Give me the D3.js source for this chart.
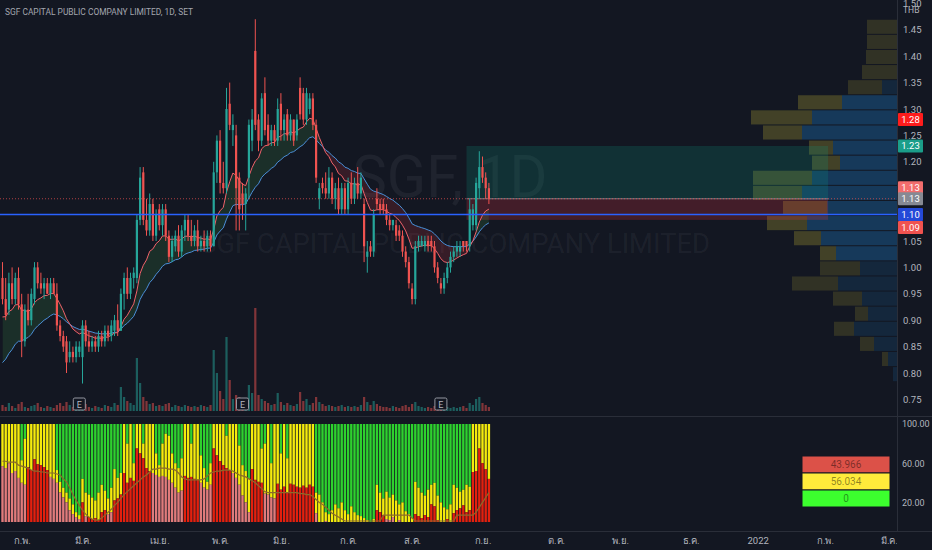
<!DOCTYPE html>
<html>
<head>
<meta charset="utf-8">
<script src="https://cdn.jsdelivr.net/npm/d3@7"></script>
<style>
body { margin: 0; background: #131722; }
svg { display: block; }
</style>
</head>
<body>
<div id="chart"></div>
<script>
// daily candles, SGF (SET), about 22 Jan 2021 .. 3 Sep 2021
const opens = [
  0.98,0.94,0.92,0.97,0.94,0.98,0.93,0.86,0.92,0.90,
  0.94,1.00,0.97,0.96,0.97,0.95,0.97,0.95,0.89,0.87,
  0.86,0.83,0.84,0.83,0.84,0.83,0.89,0.86,0.85,0.86,
  0.85,0.87,0.86,0.88,0.87,0.88,0.90,0.88,0.95,0.98,
  0.95,0.98,0.98,1.09,1.18,1.09,1.07,1.12,1.06,1.11,
  1.08,1.11,1.06,1.02,1.04,1.06,1.03,1.07,1.09,1.06,
  1.05,1.07,1.04,1.05,1.04,1.06,1.04,1.18,1.24,1.16,
  1.15,1.31,1.26,1.25,1.17,1.14,1.12,1.17,1.24,1.41,
  1.28,1.24,1.33,1.27,1.24,1.26,1.24,1.31,1.26,1.29,
  1.25,1.28,1.25,1.34,1.33,1.28,1.30,1.32,1.27,1.13,
  1.16,1.15,1.14,1.17,1.13,1.15,1.11,1.15,1.11,1.16,
  1.13,1.16,1.14,1.12,1.02,1.04,1.03,1.13,1.12,1.12,
  1.11,1.09,1.08,1.08,1.07,1.06,1.03,1.01,0.96,0.94,
  1.04,1.04,1.04,1.05,1.05,1.04,1.00,0.97,0.96,0.98,
  1.00,1.02,1.03,1.03,1.05,1.05,1.04,1.08,1.08,1.15,
  1.19,1.17,1.15
];
const highs = [
  1.01,0.98,0.99,1.00,0.99,1.00,0.95,0.93,0.95,0.96,
  1.01,1.01,0.99,0.98,0.98,0.98,0.98,0.97,0.90,0.88,
  0.87,0.86,0.85,0.86,0.86,0.90,0.90,0.88,0.87,0.87,
  0.88,0.88,0.89,0.89,0.90,0.91,0.93,0.96,0.99,1.00,
  0.99,1.00,1.10,1.19,1.19,1.13,1.14,1.13,1.11,1.12,
  1.12,1.12,1.07,1.06,1.07,1.08,1.08,1.10,1.10,1.09,
  1.08,1.09,1.06,1.07,1.07,1.07,1.20,1.25,1.26,1.20,
  1.34,1.35,1.29,1.27,1.18,1.16,1.15,1.28,1.30,1.47,
  1.29,1.33,1.36,1.29,1.27,1.27,1.32,1.33,1.29,1.30,
  1.29,1.28,1.29,1.36,1.34,1.34,1.33,1.33,1.28,1.16,
  1.17,1.18,1.19,1.18,1.16,1.17,1.16,1.16,1.17,1.18,
  1.17,1.19,1.18,1.13,1.05,1.05,1.11,1.15,1.13,1.13,
  1.12,1.10,1.09,1.09,1.08,1.07,1.04,1.02,0.97,1.05,
  1.06,1.06,1.06,1.06,1.06,1.05,1.01,0.98,0.99,1.01,
  1.03,1.04,1.05,1.05,1.05,1.05,1.13,1.12,1.17,1.22,
  1.21,1.18,1.16
];
const lows = [
  0.93,0.90,0.91,0.93,0.93,0.92,0.83,0.85,0.89,0.89,
  0.93,0.96,0.95,0.94,0.95,0.94,0.95,0.88,0.86,0.84,
  0.80,0.82,0.82,0.82,0.83,0.78,0.85,0.84,0.84,0.84,
  0.84,0.85,0.85,0.86,0.86,0.87,0.87,0.88,0.92,0.94,
  0.94,0.96,0.97,1.08,1.08,1.06,1.06,1.05,1.05,1.07,
  1.06,1.05,1.01,1.01,1.03,1.02,1.02,1.05,1.05,1.04,
  1.04,1.03,1.03,1.03,1.03,1.03,1.04,1.16,1.14,1.14,
  1.14,1.26,1.23,1.07,1.07,1.09,1.07,1.13,1.22,1.26,
  1.22,1.23,1.25,1.23,1.23,1.23,1.23,1.24,1.24,1.24,
  1.24,1.23,1.24,1.28,1.27,1.27,1.29,1.26,1.16,1.11,
  1.14,1.13,1.13,1.12,1.11,1.10,1.10,1.10,1.10,1.12,
  1.12,1.13,1.13,1.01,0.99,1.02,1.02,1.11,1.10,1.10,
  1.08,1.07,1.07,1.05,1.05,1.02,1.00,0.96,0.93,0.93,
  1.03,1.04,1.03,1.03,1.03,0.99,0.97,0.95,0.95,0.97,
  0.99,1.01,1.02,1.02,1.03,1.03,1.03,1.07,1.07,1.13,
  1.16,1.13,1.12
];
const closes = [
  0.94,0.91,0.97,0.94,0.98,0.93,0.86,0.92,0.90,0.95,
  1.00,0.97,0.96,0.97,0.95,0.97,0.95,0.89,0.87,0.85,
  0.82,0.84,0.83,0.85,0.85,0.89,0.86,0.85,0.86,0.85,
  0.87,0.86,0.88,0.87,0.89,0.90,0.88,0.95,0.98,0.95,
  0.98,0.99,1.09,1.17,1.09,1.07,1.12,1.06,1.10,1.08,
  1.11,1.06,1.02,1.05,1.06,1.03,1.07,1.09,1.06,1.05,
  1.07,1.04,1.05,1.04,1.06,1.04,1.18,1.24,1.16,1.15,
  1.30,1.27,1.27,1.15,1.11,1.12,1.14,1.27,1.28,1.27,
  1.24,1.32,1.26,1.24,1.26,1.24,1.30,1.26,1.28,1.25,
  1.28,1.24,1.28,1.29,1.28,1.33,1.32,1.27,1.17,1.15,
  1.15,1.14,1.17,1.13,1.15,1.11,1.15,1.11,1.16,1.13,
  1.16,1.14,1.17,1.04,1.03,1.03,1.10,1.12,1.11,1.11,
  1.09,1.08,1.09,1.06,1.06,1.03,1.01,0.97,0.94,1.04,
  1.05,1.05,1.05,1.04,1.04,1.00,0.98,0.96,0.98,1.00,
  1.02,1.03,1.04,1.04,1.04,1.04,1.11,1.11,1.16,1.19,
  1.17,1.15,1.13
];
const volumes = [
  6,4,8,5,3,7,9,4,3,5,
  6,8,4,3,5,4,3,6,8,5,
  9,6,4,3,5,12,7,4,3,5,
  4,3,6,5,4,8,6,24,14,10,
  8,6,53,28,14,10,7,8,5,6,
  5,7,8,4,6,5,4,6,5,4,
  5,4,6,5,4,6,61,38,20,12,
  74,31,12,16,14,10,8,26,18,103,
  16,12,10,8,6,7,18,9,6,8,
  6,5,7,19,10,12,6,8,14,9,
  7,5,6,5,4,5,6,4,5,4,
  5,4,6,14,9,6,10,7,5,4,
  4,3,5,4,3,5,6,4,7,9,
  5,4,3,4,3,5,4,6,5,4,
  3,4,3,4,5,3,8,6,12,14,
  8,6,4
];
// moving averages start values read at the left edge
const fastStart = 0.90;
const slowStart = 0.81;

// lower pane: red share, red + yellow share (green fills the rest), signal line
const redPct = [
  57,55,60,50,52,45,40,38,56,53,
  64,59,58,56,53,46,44,40,30,25,
  20,12,8,5,3,20,6,5,3,4,
  2,10,12,8,10,22,24,28,50,40,
  45,42,75,70,65,55,52,50,48,46,
  47,46,43,40,35,30,32,47,45,46,
  44,43,40,35,33,38,75,68,62,58,
  55,53,50,45,38,27,20,10,54,43,
  41,40,29,28,25,24,39,33,36,30,
  39,38,36,35,37,35,38,36,9,0,
  0,1,0,0,0,0,0,0,0,0,
  0,0,0,0,0,0,0,12,10,7,
  3,2,5,0,2,0,0,0,0,8,
  6,4,7,5,18,16,2,0,0,3,
  0,9,12,14,17,10,12,51,52,75,
  60,54,43.966
];
const redYellowPct = [
  100,100,100,100,100,100,63,85,100,100,
  100,100,100,100,100,100,100,53,41,35,
  30,24,18,10,7,44,30,28,25,22,
  30,38,32,24,35,54,45,50,100,80,
  100,60,100,100,80,100,100,100,70,58,
  80,90,88,70,60,55,65,100,100,80,
  100,100,68,55,41,60,100,100,100,100,
  88,100,100,100,78,58,52,44,100,100,
  100,75,80,100,60,100,100,70,100,65,
  100,100,100,100,100,100,100,100,30,28,
  20,10,8,12,18,14,20,12,8,16,
  10,7,6,4,2,0,3,38,30,24,
  31,25,28,22,18,20,11,8,4,41,
  35,30,27,33,38,40,27,20,15,13,
  18,38,35,31,33,38,36,100,100,100,
  100,100,100
];
const signal = [
  62,62,61,61,61,58,57,56,55,53,
  52,52,51,51,50,50,50,49,48,44,
  41,35,28,22,17,12,8,5,3,2,
  2,4,7,10,13,17,20,24,28,31,
  34,37,40,43,46,48,51,54,54,55,
  55,55,54,54,53,50,46,44,43,43,
  43,43,43,44,47,50,51,52,52,53,
  53,53,52,50,48,47,46,44,42,40,
  37,34,31,30,30,30,30,30,30,30,
  30,30,30,29,29,28,28,26,23,20,
  18,15,12,9,7,5,3,1,1,1,
  1,1,1,1,1,1,1,1,1,7,
  7,7,7,7,7,7,7,7,4,1,
  1,1,1,1,1,1,1,1,1,1,
  1,1,7,7,7,7,7,7,10,15,
  20,25,30
];

// visible range volume profile, rows from the top price down
const profileTop = 1.47;
const profileStep = 0.0286;
const profileUp =   [0,0,0,0,15,55,85,95,64,57,85,95,70,90,76,61,37,59,35,29,43,23,9,4];
const profileDown = [30,30,31,35,34,44,61,39,24,28,59,49,44,40,27,16,40,46,29,13,20,14,6,0];
const valueAreaRows = [5, 15];

// long position tool and lines
const entryPrice = 1.13;
const targetPrice = 1.23;
const stopPrice = 1.09;
const positionFrom = 145;
const positionTo = 258;
const blueLinePrice = 1.10;
const earningsIdx = [24, 75, 137];

// 1.10 and 1.15 sit under the price labels, so they are left out
const priceTicks = [0.75,0.80,0.85,0.90,0.95,1.00,1.05,1.20,1.25,1.30,1.35,1.40,1.45,1.50];
const pctTicks = [20, 60, 100];
const monthIdx = [6, 25, 49, 68, 87, 108, 128, 150, 173, 193, 215, 236, 257, 277];
const monthLabels = ['ก.พ.','มี.ค.','เม.ย.','พ.ค.','มิ.ย.','ก.ค.','ส.ค.','ก.ย.','ต.ค.','พ.ย.','ธ.ค.','2022','ก.พ.','มี.ค.'];
const axisLabelPrices = [1.28, 1.23, 1.13, 1.13, 1.10, 1.09];

const W = 932, H = 550, axisX = 897;
const font = 'Roboto, "Trebuchet MS", sans-serif';
const upColor = '#26a69a', downColor = '#ef5350';
const n = closes.length;

const x = d3.scaleLinear().domain([0, n - 1]).range([2.5, 2.5 + 3.2 * (n - 1)]);
const y = d3.scaleLinear().domain([0.75, 1.45]).range([399.4, 29.8]);
const yVol = d3.scaleLinear().domain([0, d3.max(volumes)]).range([411, 308]);
const yPct = d3.scaleLinear().domain([0, 100]).range([522, 424]);
const wProf = d3.scaleLinear().domain([0, 146]).range([0, 146]);

const svg = d3.select('#chart').append('svg')
  .attr('width', W).attr('height', H)
  .style('font-family', font);

svg.append('rect').attr('width', W).attr('height', H).attr('fill', '#131722');

const defs = svg.append('defs');
defs.append('clipPath').attr('id', 'pricePane')
  .append('rect').attr('x', 0).attr('y', 0).attr('width', axisX).attr('height', 416);
defs.append('clipPath').attr('id', 'timeAxis')
  .append('rect').attr('x', 0).attr('y', 530).attr('width', axisX).attr('height', 20);

const pane = svg.append('g').attr('clip-path', 'url(#pricePane)');

// watermark
pane.append('text')
  .attr('x', 450).attr('y', 197)
  .attr('text-anchor', 'middle')
  .attr('font-size', 60)
  .attr('textLength', 195).attr('lengthAdjust', 'spacingAndGlyphs')
  .attr('fill', 'rgba(178,181,190,0.08)')
  .text('SGF, 1D');
pane.append('text')
  .attr('x', 455).attr('y', 253)
  .attr('text-anchor', 'middle')
  .attr('font-size', 28)
  .attr('textLength', 510).attr('lengthAdjust', 'spacingAndGlyphs')
  .attr('fill', 'rgba(178,181,190,0.08)')
  .text('SGF CAPITAL PUBLIC COMPANY LIMITED');

// volume profile
const rows = d3.range(profileUp.length).map(k => {
  const hi = profileTop - k * profileStep;
  return { k, hi, lo: hi - profileStep, up: profileUp[k], down: profileDown[k],
    va: k >= valueAreaRows[0] && k <= valueAreaRows[1] };
});
const prof = pane.append('g');
prof.selectAll('rect.up').data(rows).join('rect')
  .attr('class', 'up')
  .attr('x', d => axisX - wProf(d.up))
  .attr('y', d => y(d.hi) + 0.5)
  .attr('width', d => wProf(d.up))
  .attr('height', d => y(d.lo) - y(d.hi) - 1)
  .attr('fill', d => d.va ? 'rgba(33,150,243,0.27)' : 'rgba(33,150,243,0.13)');
prof.selectAll('rect.down').data(rows).join('rect')
  .attr('class', 'down')
  .attr('x', d => axisX - wProf(d.up) - wProf(d.down))
  .attr('y', d => y(d.hi) + 0.5)
  .attr('width', d => wProf(d.down))
  .attr('height', d => y(d.lo) - y(d.hi) - 1)
  .attr('fill', d => d.va ? 'rgba(255,235,59,0.2)' : 'rgba(255,235,59,0.13)');

// position tool
pane.append('rect')
  .attr('x', x(positionFrom)).attr('y', y(targetPrice))
  .attr('width', x(positionTo) - x(positionFrom))
  .attr('height', y(entryPrice) - y(targetPrice))
  .attr('fill', 'rgba(8,153,129,0.2)');
pane.append('rect')
  .attr('x', x(positionFrom)).attr('y', y(entryPrice))
  .attr('width', x(positionTo) - x(positionFrom))
  .attr('height', y(stopPrice) - y(entryPrice))
  .attr('fill', 'rgba(242,54,69,0.22)');
pane.append('line')
  .attr('x1', x(positionFrom)).attr('x2', x(positionTo))
  .attr('y1', y(entryPrice)).attr('y2', y(entryPrice))
  .attr('stroke', '#787b86').attr('stroke-width', 1);

// moving averages with fill between
function ema(values, period, seed) {
  const k = 2 / (period + 1);
  let prev = seed;
  return values.map(v => (prev = prev + k * (v - prev)));
}
const fast = ema(closes, 12, fastStart);
const slow = ema(closes, 26, slowStart);
const idx = d3.range(n);

defs.append('clipPath').attr('id', 'aboveSlow').append('path')
  .attr('d', d3.area().x(i => x(i)).y0(0).y1(i => y(slow[i]))(idx));
defs.append('clipPath').attr('id', 'belowSlow').append('path')
  .attr('d', d3.area().x(i => x(i)).y0(i => y(slow[i])).y1(416)(idx));

const between = d3.area().x(i => x(i)).y0(i => y(slow[i])).y1(i => y(fast[i]));
pane.append('path').attr('d', between(idx))
  .attr('clip-path', 'url(#aboveSlow)').attr('fill', 'rgba(76,175,80,0.16)');
pane.append('path').attr('d', between(idx))
  .attr('clip-path', 'url(#belowSlow)').attr('fill', 'rgba(242,54,69,0.16)');

pane.append('path').attr('d', d3.line().x(i => x(i)).y(i => y(slow[i]))(idx))
  .attr('fill', 'none').attr('stroke', '#4a90d9').attr('stroke-width', 1);
pane.append('path').attr('d', d3.line().x(i => x(i)).y(i => y(fast[i]))(idx))
  .attr('fill', 'none').attr('stroke', '#f0626a').attr('stroke-width', 1);

// volume
pane.append('g').selectAll('rect').data(idx).join('rect')
  .attr('x', i => x(i) - 1.1)
  .attr('y', i => yVol(volumes[i]))
  .attr('width', 2.2)
  .attr('height', i => yVol(0) - yVol(volumes[i]))
  .attr('fill', i => closes[i] >= opens[i] ? 'rgba(38,166,154,0.5)' : 'rgba(239,83,80,0.5)');

// candles
const candles = pane.append('g').selectAll('g').data(idx).join('g');
candles.append('line')
  .attr('x1', i => x(i)).attr('x2', i => x(i))
  .attr('y1', i => y(highs[i])).attr('y2', i => y(lows[i]))
  .attr('stroke', i => closes[i] >= opens[i] ? upColor : downColor)
  .attr('stroke-width', 1);
candles.append('rect')
  .attr('x', i => x(i) - 1.1)
  .attr('y', i => y(Math.max(opens[i], closes[i])))
  .attr('width', 2.2)
  .attr('height', i => Math.max(1, Math.abs(y(opens[i]) - y(closes[i]))))
  .attr('fill', i => closes[i] >= opens[i] ? upColor : downColor);

// horizontal lines
pane.append('line')
  .attr('x1', 0).attr('x2', axisX)
  .attr('y1', y(entryPrice)).attr('y2', y(entryPrice))
  .attr('stroke', '#ef5350').attr('stroke-opacity', 0.7)
  .attr('stroke-dasharray', '1,2');
pane.append('line')
  .attr('x1', 0).attr('x2', axisX)
  .attr('y1', y(blueLinePrice)).attr('y2', y(blueLinePrice))
  .attr('stroke', '#2962ff').attr('stroke-width', 1.5);

// earnings markers
const eg = pane.append('g').selectAll('g').data(earningsIdx).join('g')
  .attr('transform', i => `translate(${x(i)},404)`);
eg.append('rect').attr('x', -6).attr('y', -6).attr('width', 12).attr('height', 12)
  .attr('rx', 1.5).attr('fill', '#131722').attr('stroke', '#9598a1');
eg.append('text').attr('text-anchor', 'middle').attr('y', 3.5)
  .attr('font-size', 9).attr('fill', '#b2b5be').text('E');

// lower pane bars
const lower = svg.append('g');
const bars = lower.selectAll('g').data(idx).join('g');
bars.append('rect')
  .attr('x', i => x(i) - 1.2).attr('width', 2.4)
  .attr('y', yPct(100))
  .attr('height', i => yPct(redYellowPct[i]) - yPct(100))
  .attr('fill', '#2ed12e');
bars.append('rect')
  .attr('x', i => x(i) - 1.2).attr('width', 2.4)
  .attr('y', i => yPct(redYellowPct[i]))
  .attr('height', i => yPct(redPct[i]) - yPct(redYellowPct[i]))
  .attr('fill', '#f5eb0c');
bars.append('rect')
  .attr('x', i => x(i) - 1.2).attr('width', 2.4)
  .attr('y', i => yPct(redPct[i]))
  .attr('height', i => yPct(0) - yPct(redPct[i]))
  .attr('fill', i => redPct[i] >= signal[i] ? '#e3200e' : '#e07b7b');
lower.append('path')
  .attr('d', d3.line().x(i => x(i)).y(i => yPct(signal[i]))(idx))
  .attr('fill', 'none').attr('stroke', '#8d6a2a').attr('stroke-width', 1.2);

// legend table
const last = n - 1;
const legendVals = [redPct[last], redYellowPct[last] - redPct[last], 100 - redYellowPct[last]];
const legendFill = ['#dc5148', '#ffeb3b', '#3cff2e'];
const lg = svg.append('g').selectAll('g').data(legendVals).join('g')
  .attr('transform', (d, k) => `translate(802,${456 + k * 17})`);
lg.append('rect').attr('width', 88).attr('height', 17)
  .attr('fill', (d, k) => legendFill[k]).attr('stroke', '#131722').attr('stroke-width', 1);
lg.append('text').attr('x', 44).attr('y', 12).attr('text-anchor', 'middle')
  .attr('font-size', 10).attr('fill', 'rgba(0,0,0,0.45)')
  .text(d => d3.format('.5~r')(+d.toFixed(3)));

// frame lines
svg.append('line').attr('x1', axisX + 0.5).attr('x2', axisX + 0.5).attr('y1', 0).attr('y2', 531)
  .attr('stroke', '#2a2e39');
svg.append('line').attr('x1', 0).attr('x2', W).attr('y1', 416.5).attr('y2', 416.5)
  .attr('stroke', '#2a2e39');
svg.append('line').attr('x1', 0).attr('x2', W).attr('y1', 531.5).attr('y2', 531.5)
  .attr('stroke', '#2a2e39');

// axes
const priceAxis = svg.append('g').attr('transform', `translate(${axisX},0)`)
  .call(d3.axisRight(y).tickValues(priceTicks).tickFormat(d3.format('.2f')).tickSize(0).tickPadding(6));
const pctAxis = svg.append('g').attr('transform', `translate(${axisX},0)`)
  .call(d3.axisRight(yPct).tickValues(pctTicks).tickFormat(d3.format('.2f')).tickSize(0).tickPadding(5));
const timeAxis = svg.append('g').attr('clip-path', 'url(#timeAxis)')
  .append('g').attr('transform', 'translate(0,531)')
  .call(d3.axisBottom(x).tickValues(monthIdx).tickFormat((d, k) => monthLabels[k]).tickSize(0).tickPadding(6));
[priceAxis, pctAxis, timeAxis].forEach(g => {
  g.select('.domain').remove();
  g.selectAll('text').attr('fill', '#b2b5be').attr('font-size', 9.5).attr('font-family', font);
});
pctAxis.selectAll('text').attr('font-size', 9);

svg.append('text').attr('x', 903).attr('y', 13).attr('font-size', 8.5)
  .attr('fill', '#b2b5be').text('THB');

// price labels on the axis
const labelFill = ['#ff1c1c', '#1b9e8a', '#f26d6d', '#868993', '#2449d8', '#f0524f'];
const labelShift = [0, 0, -11, 0, 0, 7.5];
const pl = svg.append('g').selectAll('g').data(axisLabelPrices).join('g')
  .attr('transform', (p, k) => `translate(${axisX + 1},${y(p) + labelShift[k]})`);
pl.append('rect').attr('x', 0).attr('y', -6.5).attr('width', 25).attr('height', 13)
  .attr('rx', 1).attr('fill', (p, k) => labelFill[k]);
pl.append('text').attr('x', 12.5).attr('y', 3.5).attr('text-anchor', 'middle')
  .attr('font-size', 9.5).attr('fill', '#ffffff').text(p => p.toFixed(2));

// title
svg.append('text').attr('x', 5).attr('y', 15)
  .attr('font-size', 9.5).attr('fill', '#a3a6af')
  .attr('textLength', 188).attr('lengthAdjust', 'spacingAndGlyphs')
  .text('SGF CAPITAL PUBLIC COMPANY LIMITED, 1D, SET');
</script>
</body>
</html>
